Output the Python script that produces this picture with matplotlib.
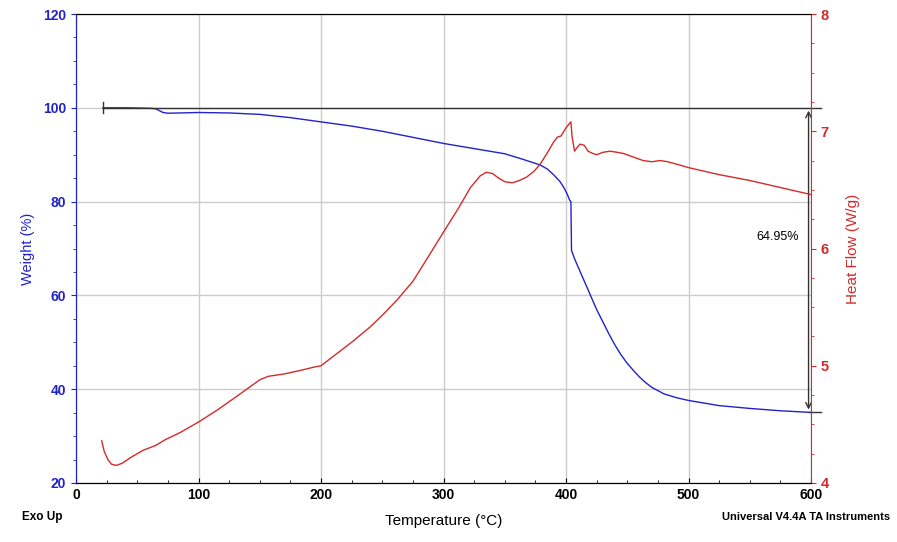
import matplotlib.pyplot as plt
from matplotlib.ticker import MultipleLocator

plt.rcParams['font.family'] = ['Liberation Sans', 'DejaVu Sans']

# weight loss curve (TGA)
temp_w = [22, 40, 60, 65, 68, 71, 75, 85, 100, 125, 150, 175, 200, 225, 250, 275, 300, 325, 350,
          365, 379, 385, 390, 395, 398, 401, 403, 404, 404.5, 407, 410, 415, 420, 425, 430, 435,
          440, 445, 450, 455, 460, 465, 470, 480, 490, 500, 525, 550, 575, 600]
weight = [100, 100, 99.9, 99.8, 99.4, 99.0, 98.85, 98.9, 99.0, 98.9, 98.6, 97.9, 97.0, 96.1, 95.0,
          93.7, 92.4, 91.3, 90.2, 89.0, 87.8, 86.9, 85.7, 84.3, 83.1, 81.6, 80.3, 80.0, 69.6, 67.8,
          66.0, 63.0, 60.0, 57.0, 54.4, 51.8, 49.4, 47.3, 45.5, 44.0, 42.6, 41.4, 40.4, 39.0, 38.2,
          37.6, 36.5, 35.9, 35.4, 35.05]

# heat flow curve (DSC)
temp_h = [21, 23, 26, 29, 33, 38, 45, 55, 65, 73, 85, 100, 115, 130, 142, 150, 157, 170, 183, 195,
          200, 210, 225, 240, 250, 262, 275, 287, 300, 312, 322, 330, 335, 340, 345, 350, 356, 362,
          368, 374, 379, 385, 390, 393, 396, 400, 404, 405, 407, 409, 411.4, 415, 418, 422, 425,
          430, 436, 442, 447, 455, 463, 470, 477, 483, 490, 500, 525, 550, 575, 600]
heat = [4.36, 4.27, 4.20, 4.16, 4.15, 4.17, 4.22, 4.28, 4.32, 4.37, 4.43, 4.52, 4.62, 4.73, 4.82,
        4.88, 4.91, 4.93, 4.96, 4.99, 5.00, 5.08, 5.20, 5.33, 5.43, 5.56, 5.72, 5.92, 6.14, 6.34,
        6.52, 6.62, 6.65, 6.64, 6.60, 6.57, 6.56, 6.58, 6.61, 6.66, 6.72, 6.82, 6.91, 6.95, 6.96,
        7.03, 7.08, 6.95, 6.83, 6.86, 6.89, 6.88, 6.83, 6.81, 6.80, 6.82, 6.83, 6.82, 6.81, 6.78,
        6.75, 6.74, 6.75, 6.74, 6.72, 6.69, 6.63, 6.58, 6.52, 6.46]

w_start, w_end = 100.0, 35.05
loss_label = '64.95%'

blue = '#2222cc'
red = '#d42a2a'

fig = plt.figure(figsize=(8.97, 5.42), dpi=100)
ax = fig.add_axes([76 / 897, 1 - 483 / 542, 735 / 897, 469 / 542])
ax2 = ax.twinx()

ax.plot(temp_w, weight, color=blue, lw=1.0, zorder=3, solid_joinstyle='round')
ax2.plot(temp_h, heat, color=red, lw=1.0, solid_joinstyle='round')

# step annotation
ax.plot([22, 608], [w_start, w_start], color='#333333', lw=1.0, clip_on=False, zorder=4)
ax.plot([22, 22], [w_start - 1.2, w_start + 1.2], color='#333333', lw=1.0, zorder=4)
ax.plot([598, 608], [w_end, w_end], color='#333333', lw=1.0, clip_on=False, zorder=4)
ax.annotate('', xy=(598, w_start), xytext=(598, w_end),
            arrowprops=dict(arrowstyle='<->', color='#333333', lw=1.0, mutation_scale=10), zorder=4)
ax.text(573, 72.5, loss_label, fontsize=9, ha='center', va='center', color='black')

ax.set_xlim(0, 600)
ax.set_ylim(20, 120)
ax2.set_ylim(4, 8)

ax.xaxis.set_major_locator(MultipleLocator(100))
ax.xaxis.set_minor_locator(MultipleLocator(25))
ax.yaxis.set_major_locator(MultipleLocator(20))
ax.yaxis.set_minor_locator(MultipleLocator(5))
ax2.yaxis.set_major_locator(MultipleLocator(1))
ax2.yaxis.set_minor_locator(MultipleLocator(0.25))

ax.grid(True, which='major', color='#cccccc', lw=1.0)
ax.set_axisbelow(True)

ax.tick_params(axis='x', which='both', direction='in', colors='black', labelsize=10)
ax.tick_params(axis='y', which='both', direction='out', colors=blue, labelsize=10)
ax2.tick_params(axis='y', which='both', direction='out', colors=red, labelsize=10.5)
for lab in ax.get_xticklabels() + ax.get_yticklabels() + ax2.get_yticklabels():
    lab.set_fontweight('bold')

ax.spines['left'].set_color(blue)
ax2.spines['left'].set_color(blue)
ax2.spines['right'].set_color(red)
ax.spines['right'].set_visible(False)

ax.set_xlabel('Temperature (°C)', fontsize=11, color='black', labelpad=9)
ax.set_ylabel('Weight (%)', fontsize=10.5, color=blue, labelpad=6)
ax2.set_ylabel('Heat Flow (W/g)', fontsize=11, color=red, labelpad=12)

fig.text(22 / 897, 1 - 517 / 542, 'Exo Up', fontsize=8.5, fontweight='bold', va='center', ha='left')
fig.text(890 / 897, 1 - 517 / 542, 'Universal V4.4A TA Instruments', fontsize=8,
         fontweight='bold', va='center', ha='right')

fig.savefig('out.png', dpi=100)
